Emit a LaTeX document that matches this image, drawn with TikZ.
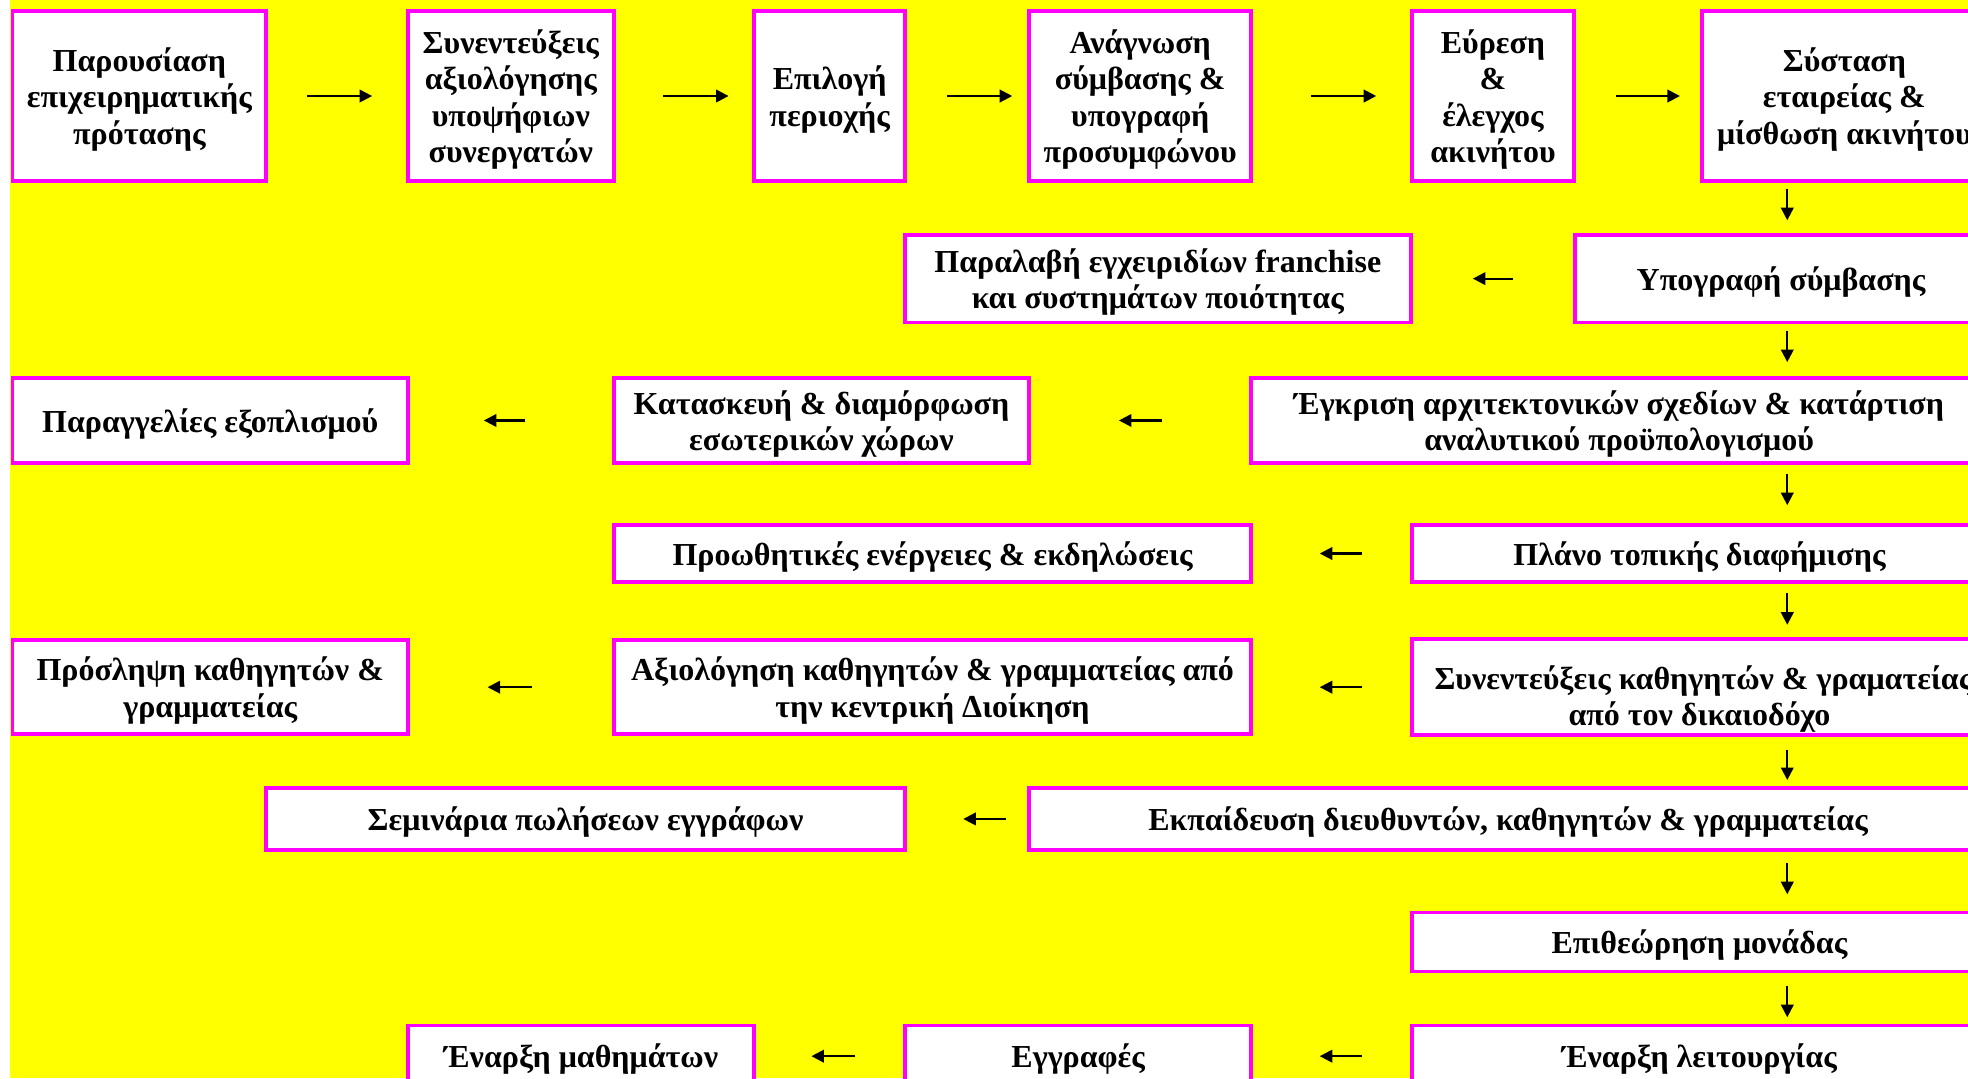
\documentclass[tikz,border=0pt]{standalone}
\usepackage{fontspec}
\setmainfont{Liberation Serif}
\usetikzlibrary{arrows.meta}
\definecolor{cBack}{HTML}{FFFF00}
\definecolor{cFrame}{HTML}{FF00FF}
\newcommand\tallrow[1][24.5pt]{\rule{0pt}{#1}}

\begin{document}
\begin{tikzpicture}[
    x=1pt, y=-1pt, font=\fontsize{25.5}{29}\selectfont\bfseries,
    box/.style={draw=cFrame, line width=3pt, fill=white, align=center,
                inner sep=2pt, execute at begin node={\rule{0pt}{24pt}}},
    arr/.style={-{Triangle[length=10pt, width=10pt]}, line width=1.7pt},
]

% ===================== Fondo =====================
\useasboundingbox (0,0) rectangle (1568,859);
\clip (0,0) rectangle (1568,859);
\fill[white] (0,0) rectangle (1568,859);
\fill[cBack] (8,0) rectangle (1568,859);
\coordinate (col) at (1424,0);

% ===================== Row 1 =====================
\node[box, minimum width=202, minimum height=135] (pres) at (111,76.5)
      {\tallrow Παρουσίαση\\επιχειρηματικής\\πρότασης};
\node[box, minimum width=164, minimum height=135] (interv) at (407,76.5)
      {\tallrow Συνεντεύξεις\\αξιολόγησης\\υποψήφιων\\συνεργατών};
\node[box, minimum width=120, minimum height=135] (area) at (661,76.5)
      {\tallrow Επιλογή\\περιοχής};
\node[box, minimum width=177, minimum height=135] (precon) at (908.5,76.5)
      {\tallrow Ανάγνωση\\σύμβασης \&\\υπογραφή\\προσυμφώνου};
\node[box, minimum width=129, minimum height=135] (estate) at (1189.5,76.5)
      {\tallrow Εύρεση\\\&\\έλεγχος\\ακινήτου};
\node[box, minimum width=227, minimum height=135] (found) at (1469.5,76.5)
      {\tallrow Σύσταση\\εταιρείας \&\\μίσθωση ακινήτου};

% ===================== Row 2 =====================
\node[box, minimum width=403, minimum height=70] (manual) at (922.5,222)
      {\tallrow Παραλαβή εγχειριδίων franchise\\και συστημάτων ποιότητας};
\node[box, minimum width=328, minimum height=70] (sign) at (1419,222)
      {Υπογραφή σύμβασης};

% ===================== Row 3 =====================
\node[box, minimum width=315, minimum height=68] (equip) at (167.5,335)
      {Παραγγελίες εξοπλισμού};
\node[box, minimum width=331, minimum height=68] (build) at (654.5,335)
      {\tallrow Κατασκευή \& διαμόρφωση\\εσωτερικών χώρων};
\node[box, minimum width=586, minimum height=68] (plans) at (1290,335)
      {\tallrow Έγκριση αρχιτεκτονικών σχεδίων \& κατάρτιση\\αναλυτικού προϋπολογισμού};

% ===================== Row 4 =====================
\node[box, minimum width=508, minimum height=46] (promo) at (743,441)
      {Προωθητικές ενέργειες \& εκδηλώσεις};
\node[box, minimum width=458, minimum height=46] (adv) at (1354,441)
      {Πλάνο τοπικής διαφήμισης};

% ===================== Row 5 =====================
\node[box, minimum width=315, minimum height=75] (hire) at (167.5,547.5)
      {\tallrow Πρόσληψη καθηγητών \&\\γραμματείας};
\node[box, minimum width=508, minimum height=75] (eval) at (743,547.5)
      {\tallrow Αξιολόγηση καθηγητών \& γραμματείας από\\την κεντρική Διοίκηση};
\node[box, minimum width=458, minimum height=75] (staff) at (1354,547.5)
      {\tallrow[38pt] Συνεντεύξεις καθηγητών \& γραματείας\\από τον δικαιοδόχο};

% ===================== Row 6 =====================
\node[box, minimum width=509, minimum height=49] (sales) at (466.5,652.5)
      {Σεμινάρια πωλήσεων εγγράφων};
\node[box, minimum width=763, minimum height=49] (train) at (1201.5,652.5)
      {Εκπαίδευση διευθυντών, καθηγητών \& γραμματείας};

% ===================== Row 7 =====================
\node[box, minimum width=458, minimum height=47] (insp) at (1354,750.5)
      {Επιθεώρηση μονάδας};

% ===================== Row 8 =====================
\node[box, minimum width=276, minimum height=49] (lessons) at (463,841.5)
      {Έναρξη μαθημάτων};
\node[box, minimum width=276, minimum height=49] (enrol) at (859,841.5)
      {Εγγραφές};
\node[box, minimum width=458, minimum height=49] (open) at (1354,841.5)
      {Έναρξη λειτουργίας};

% ===================== Arrows, row 1 =====================
\draw[arr, shorten <=31pt, shorten >=27pt] (pres) -- (interv);
\draw[arr, shorten <=38pt, shorten >=19pt] (interv) -- (area);
\draw[arr, shorten <=32pt, shorten >=12pt] (area) -- (precon);
\draw[arr, shorten <=46pt, shorten >=27pt] (precon) -- (estate);
\draw[arr, shorten <=32pt, shorten >=16pt] (estate) -- (found);

% ===================== Arrows, right column =====================
\draw[arr, shorten <=5pt, shorten >=10pt] (found.south -| col) -- (sign.north -| col);
\draw[arr, shorten <=5pt, shorten >=11pt] (sign.south -| col) -- (plans.north -| col);
\draw[arr, shorten <=7pt, shorten >=14pt] (plans.south -| col) -- (adv.north -| col);
\draw[arr, shorten <=7pt, shorten >=10pt] (adv.south -| col) -- (staff.north -| col);
\draw[arr, shorten <=10pt, shorten >=5pt] (staff.south -| col) -- (train.north -| col);
\draw[arr, shorten <=9pt, shorten >=13pt] (train.south -| col) -- (insp.north -| col);
\draw[arr, shorten <=10pt, shorten >=5pt] (insp.south -| col) -- (open.north -| col);

% ===================== Arrows, leftwards =====================
\draw[arr, shorten <=48pt, shorten >=48pt] (sign) -- (manual);
\draw[arr, shorten <=70pt, shorten >=70pt] (plans) -- (build);
\draw[arr, shorten <=69pt, shorten >=59pt] (build) -- (equip);
\draw[arr, shorten <=38pt, shorten >=53pt] (adv) -- (promo);
\draw[arr, shorten <=38pt, shorten >=53pt] (staff) -- (eval);
\draw[arr, shorten <=64pt, shorten >=62pt] (eval) -- (hire);
\draw[arr, shorten <=17pt, shorten >=45pt] (train) -- (sales);
\draw[arr, shorten <=38pt, shorten >=53pt] (open) -- (enrol);
\draw[arr, shorten <=38pt, shorten >=44pt] (enrol) -- (lessons);

\end{tikzpicture}
\end{document}
